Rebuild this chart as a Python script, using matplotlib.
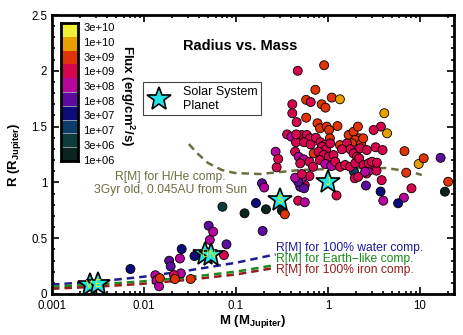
import numpy as np
import matplotlib
matplotlib.use("Agg")
import matplotlib.pyplot as plt
from matplotlib.colors import ListedColormap, BoundaryNorm
from matplotlib.lines import Line2D
from matplotlib.ticker import LogLocator, MultipleLocator, NullFormatter

plt.rcParams['font.family'] = ['Liberation Sans', 'DejaVu Sans']
plt.rcParams['mathtext.fontset'] = 'custom'
plt.rcParams['mathtext.rm'] = 'Liberation Sans'
plt.rcParams['mathtext.bf'] = 'Liberation Sans:bold'

# flux bins (erg/cm^2/s) and their colours, bottom to top of the colour bar
flux_levels = [1e6, 3e6, 1e7, 3e7, 1e8, 3e8, 1e9, 3e9, 1e10, 3e10, 1e11]
flux_labels = ['1e+06', '3e+06', '1e+07', '3e+07', '1e+08',
               '3e+08', '1e+09', '3e+09', '1e+10', '3e+10']
flux_colors = ['#0c2420', '#0d3a3a', '#0d3b6a', '#0b0b7c', '#5c0c9e',
               '#b6069e', '#d4064e', '#e03408', '#e8a000', '#f0f038']

# exoplanets: mass (M_Jup), radius (R_Jup), incident flux
planet_mass = [
    0.47, 0.91, 0.73, 0.58, 0.65, 0.855, 0.94, 1.10, 1.35, 0.41,
    0.41, 0.457, 0.58, 0.77, 0.82, 0.97, 1.03, 1.27, 0.36, 0.40,
    0.45, 0.52, 0.59, 0.64, 0.55, 0.65, 0.74, 0.83, 1.05, 0.93,
    0.27, 1.35, 4.1, 4.4, 3.77, 3.14, 6.8, 7.1, 9.7, 11.0,
    16.8, 20.3, 18.7, 8.1, 6.7, 5.8, 4.0, 3.74, 2.59, 3.84,
    2.63, 2.86, 3.16, 3.38, 1.92, 1.96, 2.13, 1.24, 0.56, 0.63,
    0.52, 0.50, 0.55, 0.475, 0.44, 0.277, 0.288, 0.192, 0.203, 0.165,
    0.212, 0.124, 0.316, 0.34, 0.195, 0.475, 0.56, 0.0713, 0.0505, 0.0566,
    0.052, 0.0789, 0.074, 0.0354, 0.0257, 0.0246, 0.0188, 0.0195, 0.0252, 0.0212,
    0.0217, 0.0322, 0.0133, 0.0137, 0.0146, 0.0149, 0.00713, 0.452, 0.86, 0.96,
    1.06, 1.68, 1.90, 2.12, 2.19, 1.98, 2.30, 1.82, 1.61, 1.75,
    1.90, 2.07, 2.24, 2.65, 1.42, 0.44, 0.48, 0.545, 0.50, 0.63,
    0.70, 0.79, 0.90, 0.82, 1.02, 1.15, 0.935, 1.09, 1.20, 1.36,
    1.54, 1.75, 1.98, 2.19, 2.44, 2.77, 3.01, 3.41, 2.54, 0.52,
    3.30, 3.93, 2.42, 0.69,
]
planet_radius = [
    2.00, 2.05, 1.83, 1.74, 1.72, 1.70, 1.67, 1.76, 1.745, 1.70,
    1.62, 1.54, 1.58, 1.53, 1.485, 1.50, 1.47, 1.505, 1.43, 1.41,
    1.36, 1.425, 1.425, 1.395, 1.36, 1.34, 1.40, 1.36, 1.395, 1.335,
    1.275, 1.335, 1.62, 1.44, 1.50, 1.47, 1.28, 1.087, 1.165, 1.216,
    1.22, 1.006, 0.917, 0.947, 0.863, 0.813, 0.836, 0.918, 0.972, 1.02,
    1.08, 1.11, 1.156, 1.105, 1.096, 1.037, 1.05, 0.883, 0.977, 1.057,
    1.037, 0.961, 0.947, 1.006, 1.042, 1.135, 1.21, 0.992, 0.954, 0.815,
    0.759, 0.723, 0.748, 0.714, 0.565, 0.836, 0.822, 0.782, 0.612, 0.558,
    0.484, 0.445, 0.349, 0.34, 0.403, 0.318, 0.298, 0.248, 0.185, 0.17,
    0.134, 0.134, 0.168, 0.121, 0.069, 0.142, 0.224, 1.43, 1.32, 1.297,
    1.35, 1.425, 1.454, 1.50, 1.395, 1.38, 1.35, 1.35, 1.35, 1.297,
    1.26, 1.23, 1.306, 1.29, 1.297, 1.275, 1.23, 1.207, 1.171, 1.185,
    1.26, 1.275, 1.245, 1.20, 1.23, 1.245, 1.165, 1.147, 1.185, 1.14,
    1.156, 1.14, 1.171, 1.216, 1.156, 1.171, 1.185, 1.177, 1.096, 1.075,
    1.315, 1.29, 1.395, 1.14,
]
planet_flux = [
    1.5e9, 5e9, 5e9, 5e9, 1.5e9, 5e9, 5e9, 5e9, 1.5e10, 1.5e9,
    1.5e9, 1.5e9, 5e9, 5e9, 5e9, 5e9, 5e9, 5e9, 1.5e9, 5e8,
    1.5e9, 1.5e9, 1.5e9, 1.5e9, 1.5e9, 1.5e9, 1.5e9, 1.5e9, 5e9, 1.5e9,
    5e8, 5e9, 1.5e10, 1.5e10, 1.5e9, 1.5e9, 5e9, 5e9, 1.5e10, 5e9,
    1.5e8, 5e9, 1.5e6, 1.5e9, 5e8, 5e7, 5e8, 5e7, 1.5e8, 1.5e9,
    1.5e9, 5e8, 1.5e9, 1.5e9, 1.5e7, 1.5e9, 1.5e9, 1.5e9, 1.5e9, 1.5e9,
    5e8, 1.5e8, 1.5e8, 1.5e8, 5e8, 1.5e9, 1.5e9, 1.5e8, 5e8, 5e7,
    1.5e6, 1.5e6, 1.5e6, 5e9, 1.5e8, 1.5e9, 5e8, 5e6, 1.5e8, 5e8,
    5e8, 1.5e8, 1.5e9, 5e7, 5e7, 5e8, 1.5e8, 1.5e8, 5e8, 1.5e9,
    5e9, 5e9, 5e8, 5e8, 5e8, 5e9, 5e7, 1.5e9, 1.5e9, 1.5e9,
    1.5e9, 5e9, 5e9, 5e9, 5e9, 5e9, 5e9, 5e9, 1.5e9, 1.5e9,
    1.5e9, 1.5e9, 1.5e9, 1.5e9, 1.5e9, 1.5e9, 5e8, 5e8, 1.5e9, 1.5e9,
    5e9, 1.5e9, 1.5e9, 1.5e9, 1.5e9, 1.5e9, 5e8, 5e8, 1.5e9, 1.5e9,
    1.5e9, 1.5e9, 1.5e9, 1.5e9, 1.5e9, 1.5e9, 1.5e9, 1.5e9, 5e8, 1.5e9,
    1.5e9, 1.5e9, 5e9, 1.5e9,
]

# solar system planets
solar_names = ['V', 'E', 'U', 'N', 'S', 'J']
solar_mass = [0.00256, 0.00315, 0.0457, 0.054, 0.299, 1.0]
solar_radius = [0.085, 0.089, 0.357, 0.346, 0.843, 1.0]

# H/He model curve
hhe_mass = [0.0308, 0.0377, 0.0497, 0.0705, 0.0975, 0.182, 0.30,
            0.50, 1.05, 2.23, 4.17, 6.06, 8.19, 10.5]
hhe_radius = [1.344, 1.263, 1.174, 1.111, 1.084, 1.075, 1.093,
              1.111, 1.12, 1.129, 1.129, 1.111, 1.093, 1.066]

# solid-planet model curves
solid_mass = [0.001, 0.003, 0.01, 0.03, 0.1, 0.27]
water_radius = [0.085, 0.11, 0.155, 0.21, 0.28, 0.355]
earth_radius = [0.065, 0.085, 0.114, 0.15, 0.2, 0.26]
iron_radius = [0.047, 0.065, 0.092, 0.127, 0.175, 0.235]

xtick_values = [0.001, 0.01, 0.1, 1, 10]
xtick_labels = ['0.001', '0.01', '0.1', '1', '10']
ytick_values = [0, 0.5, 1, 1.5, 2, 2.5]
ytick_labels = ['0', '0.5', '1', '1.5', '2', '2.5']

OLIVE = '#6e6e42'
BLUE = '#1c1c96'
GREEN = '#1a8a1a'
DARKRED = '#961c1c'
STAR_FILL = '#22e4e4'

fig = plt.figure(figsize=(4.63, 3.35), dpi=100)
ax = fig.add_axes([0.1123, 0.1224, 0.8683, 0.8328])

cmap = ListedColormap(flux_colors)
norm = BoundaryNorm(flux_levels, cmap.N)

dash = (0, (3, 2))
ax.plot(hhe_mass, hhe_radius, color=OLIVE, lw=1.8, ls=dash, zorder=2)
ax.plot(solid_mass, water_radius, color=BLUE, lw=1.8, ls=dash, zorder=2)
ax.plot(solid_mass, earth_radius, color=GREEN, lw=1.8, ls=dash, zorder=2)
ax.plot(solid_mass, iron_radius, color=DARKRED, lw=1.8, ls=dash, zorder=2)

ax.scatter(planet_mass, planet_radius, c=planet_flux, cmap=cmap, norm=norm,
           s=42, edgecolors='black', linewidths=0.6, zorder=3)

ax.plot(solar_mass, solar_radius, ls='none', marker='*', ms=18,
        mfc=STAR_FILL, mec='black', mew=1.2, zorder=5)
for name, m, r in zip(solar_names, solar_mass, solar_radius):
    ax.text(m, r, name, color='#f2f000', fontsize=7, ha='center',
            va='center', zorder=6)

# model annotations
note_size = 8.7
ax.text(0.0195, 1.048, 'R[M] for H/He comp.', color=OLIVE,
        fontsize=note_size, ha='center', va='center')
ax.text(0.0195, 0.93, '3Gyr old, 0.045AU from Sun', color=OLIVE,
        fontsize=note_size, ha='center', va='center')
ax.text(0.272, 0.412, 'R[M] for 100% water comp.', color=BLUE,
        fontsize=note_size, ha='left', va='center')
ax.text(0.272, 0.314, 'R[M] for Earth\u2212like comp.', color=GREEN,
        fontsize=note_size, ha='left', va='center')
ax.text(0.272, 0.215, 'R[M] for 100% iron comp.', color=DARKRED,
        fontsize=note_size, ha='left', va='center')

ax.text(0.4677, 0.89, 'Radius vs. Mass', transform=ax.transAxes,
        fontweight='bold', fontsize=10.5, ha='center', va='center')

star_handle = Line2D([], [], ls='none', marker='*', ms=18, mfc=STAR_FILL,
                     mec='black', mew=1.2)
leg = ax.legend([star_handle], ['Solar System\nPlanet'], loc='upper left',
                bbox_to_anchor=(0.226, 0.76), fontsize=9, fancybox=False,
                framealpha=1, edgecolor='#444444', borderpad=0.3,
                handletextpad=0.9, handlelength=2.0, borderaxespad=0)
leg.get_frame().set_linewidth(0.8)

ax.set_xscale('log')
ax.set_xlim(0.001, 23.5)
ax.set_ylim(0, 2.5)
ax.set_xticks(xtick_values)
ax.set_xticklabels(xtick_labels)
ax.xaxis.set_minor_locator(LogLocator(base=10, subs=np.arange(2, 10)))
ax.xaxis.set_minor_formatter(NullFormatter())
ax.set_yticks(ytick_values)
ax.set_yticklabels(ytick_labels)
ax.yaxis.set_minor_locator(MultipleLocator(0.1))
ax.tick_params(which='both', direction='in', top=True, right=True,
               width=1.2, labelsize=8.3, pad=3.5)
ax.tick_params(axis='x', which='both', pad=4.5)
ax.tick_params(which='major', length=5)
ax.tick_params(which='minor', length=2.5)
for sp in ax.spines.values():
    sp.set_linewidth(2)

ax.set_xlabel(r'M (M$_{\mathbf{Jupiter}}$)', fontweight='bold', fontsize=9.5,
              labelpad=0.5)
ax.set_ylabel(r'R (R$_{\mathbf{Jupiter}}$)', fontweight='bold', fontsize=9.5,
              labelpad=6)

# discrete colour bar
cax = fig.add_axes([61 / 463, 1 - 161 / 335, 17 / 463, 138 / 335])
n_bins = len(flux_colors)
cax.imshow(np.arange(n_bins)[:, None], cmap=cmap, aspect='auto',
           origin='lower', extent=[0, 1, 0, n_bins],
           vmin=-0.5, vmax=n_bins - 0.5)
for b in range(1, 6):
    cax.axhline(b, color='#a8a8b8', lw=0.6)
cax.set_xticks([])
cax.yaxis.tick_right()
cax.set_yticks(np.linspace(0.1, 9.7, n_bins))
cax.set_yticklabels(flux_labels)
cax.tick_params(length=0, pad=4, labelsize=8)
for sp in cax.spines.values():
    sp.set_linewidth(2)
fig.text(126.7 / 463, 1 - 96 / 335, r'Flux (erg/cm$^{\mathbf{2}}$/s)',
         rotation=270, fontweight='bold', fontsize=9.5, ha='center',
         va='center')

fig.savefig('out.png', dpi=100)
